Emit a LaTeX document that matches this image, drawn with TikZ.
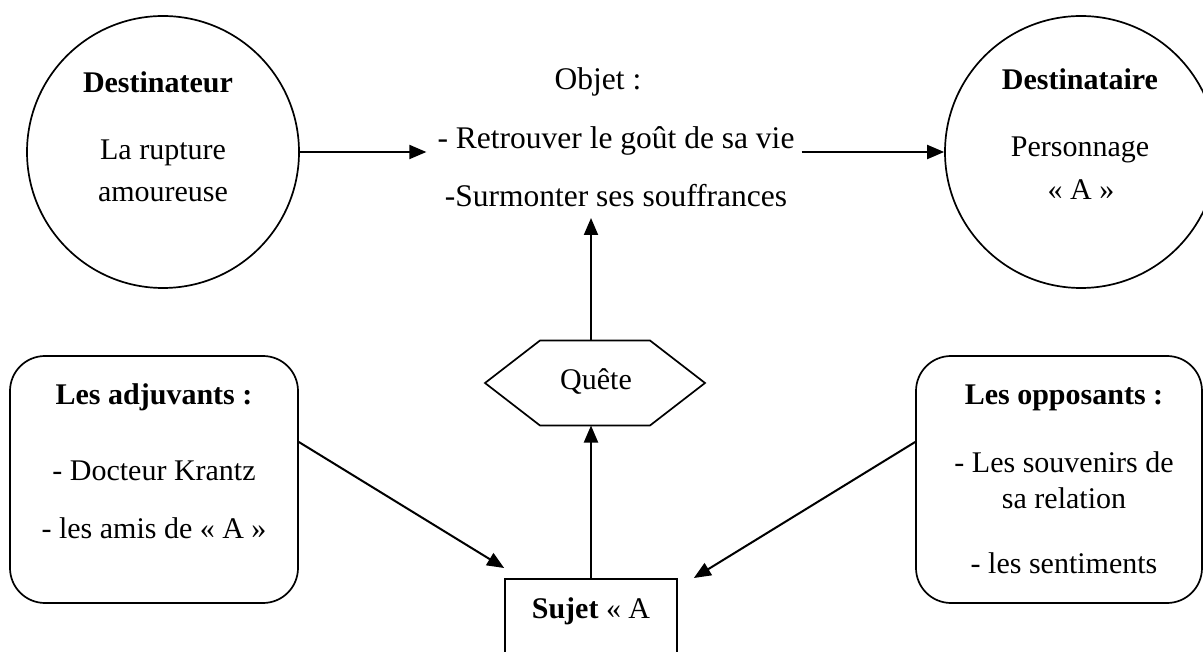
\documentclass[tikz,border=0pt]{standalone}
\usepackage{fontspec}
\setmainfont{Liberation Serif}
\usetikzlibrary{arrows.meta}
\begin{document}
\begin{tikzpicture}[x=1pt,y=-1pt,
  txt/.style={anchor=base,inner sep=0pt,font=\fontsize{30}{36}\selectfont},
  bigtxt/.style={anchor=base,inner sep=0pt,font=\fontsize{31.5}{38}\selectfont},
  shapeline/.style={line width=1.7pt},
  arr/.style={line width=2pt,-{Triangle[length=17pt,width=14pt]}},
  ]
\useasboundingbox (0,0) rectangle (1203,652);
\clip (0,0) rectangle (1203,652);

% circles
\node[circle,draw,shapeline,minimum size=272pt,inner sep=0pt] (dest) at (163,152) {};
\node[circle,draw,shapeline,minimum size=272pt,inner sep=0pt] (destR) at (1081,152) {};

\node[txt] (d1) at (158,93) {\bfseries Destinateur};
\node[txt] (d2) at (163,160) {La rupture};
\node[txt] (d3) at (163,202) {amoureuse};

\node[txt] (r1) at (1080,90) {\bfseries Destinataire};
\node[txt] (r2) at (1080,157) {Personnage};
\node[txt] (r3) at (1081,200) {« A »};

% objet
\node[bigtxt] (ob1) at (598,90) {Objet :};
\node[bigtxt] (ob2) at (616,149) {- Retrouver le goût de sa vie};
\node[bigtxt] (ob3) at (616,207) {-Surmonter ses souffrances};
\coordinate (ot) at (591,218);

% boxes
\node[draw,shapeline,rounded corners=35pt,minimum width=288pt,minimum height=247pt] (adj) at (154,479.5) {};
\node[txt] (a1) at (154,405) {\bfseries Les adjuvants :};
\node[txt] (a2) at (154,480) {- Docteur Krantz};
\node[txt] (a3) at (154,538) {- les amis de « A »};

\node[draw,shapeline,rounded corners=35pt,minimum width=286pt,minimum height=247pt] (opp) at (1059,479.5) {};
\node[txt] (o1) at (1064,405) {\bfseries Les opposants :};
\node[txt] (o2) at (1064,472) {- Les souvenirs de};
\node[txt] (o3) at (1064,508) {sa relation};
\node[txt] (o4) at (1064,573) {- les sentiments};

% hexagon
\node[rectangle,inner sep=0pt,outer sep=0pt,minimum width=220pt,minimum height=85pt] (q) at (595,383) {};
\draw[shapeline] (q.west) -- ([xshift=55pt]q.north west) -- ([xshift=-55pt]q.north east) -- (q.east) -- ([xshift=-55pt]q.south east) -- ([xshift=55pt]q.south west) -- cycle;
\node[txt] (qt) at (596,390) {Quête};

% sujet
\node[draw,shapeline,anchor=north,minimum width=172pt,inner ysep=18pt,text height=22pt,text depth=80pt,font=\fontsize{30}{36}\selectfont] (sujet) at (591,578) {\textbf{Sujet} « A};

% arrows
\draw[arr,shorten >=11pt] (dest.east) -- (ob2.west |- dest.east);
\draw[arr,shorten <=7pt] (ob2.east |- destR.west) -- (destR.west);
\draw[arr] ([yshift=37.5pt]adj.east) -- ([yshift=10pt]sujet.north west);
\draw[arr] ([yshift=37.5pt]opp.west) -- ([xshift=16pt]sujet.north east);
\draw[arr] (sujet.north) -- (q.south -| sujet.north);
\draw[arr] (q.north -| sujet.north) -- (ot);
\end{tikzpicture}
\end{document}
